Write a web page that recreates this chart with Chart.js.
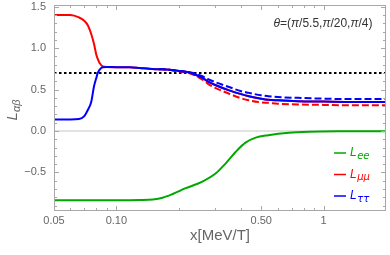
<!DOCTYPE html>
<html>
<head>
<meta charset="utf-8">
<script src="https://cdn.jsdelivr.net/npm/chart.js@4.4.1/dist/chart.umd.min.js"></script>
<style>
  html, body { margin: 0; padding: 0; background: #fff; }
</style>
</head>
<body>
<canvas id="chart" width="390" height="255"></canvas>
<script>
// Solid curves (L_mumu and L_tautau), shared x values
const xSolid = [0.05, 0.06, 0.066, 0.07, 0.073, 0.0756, 0.078, 0.08, 0.0813, 0.083,
                0.0845, 0.086, 0.09, 0.1, 0.116, 0.13, 0.144, 0.16, 0.18, 0.2,
                0.229, 0.26, 0.28, 0.3, 0.35, 0.4, 0.436, 0.5, 0.54, 0.6,
                0.75, 1.0, 1.4, 2.0];
const muSolid = [1.40, 1.40, 1.37, 1.33, 1.27, 1.17, 1.05, 0.92, 0.87, 0.82,
                 0.795, 0.78, 0.772, 0.77, 0.77, 0.76, 0.75, 0.745, 0.74, 0.725,
                 0.70, 0.64, 0.59, 0.555, 0.49, 0.445, 0.42, 0.39, 0.377, 0.37,
                 0.36, 0.355, 0.35, 0.35];
const tauSolid = [0.14, 0.14, 0.145, 0.18, 0.26, 0.35, 0.54, 0.64, 0.70, 0.74,
                  0.76, 0.77, 0.772, 0.77, 0.77, 0.76, 0.75, 0.745, 0.74, 0.725,
                  0.70, 0.64, 0.59, 0.555, 0.49, 0.445, 0.42, 0.39, 0.377, 0.37,
                  0.36, 0.355, 0.35, 0.35];

// Dashed curves
const xDash = [0.16, 0.18, 0.2, 0.229, 0.26, 0.28, 0.3, 0.35, 0.4, 0.436,
               0.5, 0.54, 0.6, 0.75, 1.0, 1.4, 2.0];
const tauDash = [0.745, 0.74, 0.725, 0.705, 0.66, 0.62, 0.59, 0.53, 0.48, 0.46,
                 0.43, 0.42, 0.41, 0.40, 0.39, 0.385, 0.385];
const muDash = [0.745, 0.74, 0.72, 0.69, 0.62, 0.56, 0.52, 0.45, 0.395, 0.37,
                0.345, 0.34, 0.33, 0.32, 0.315, 0.31, 0.31];

// L_ee
const xEe = [0.05, 0.1, 0.13, 0.15, 0.167, 0.187, 0.216, 0.26, 0.302, 0.337,
             0.377, 0.42, 0.47, 0.54, 0.68, 0.85, 1.2, 2.0];
const ee = [-0.835, -0.835, -0.832, -0.825, -0.805, -0.76, -0.69, -0.61, -0.51, -0.39,
            -0.25, -0.14, -0.08, -0.05, -0.02, -0.008, -0.003, -0.002];

// Reference lines
const refX = [0.05, 2.0];
const zeroY = [0, 0];
const dottedY = [0.7, 0.7];

// Axes
const xMin = 0.05, xMax = 2.0;
const yMin = -0.965, yMax = 1.52;
const xMajor = [0.05, 0.1, 0.5, 1];
const xTickLabels = ['0.05', '0.10', '0.50', '1'];
const xMinor = [0.06, 0.07, 0.08, 0.09, 0.2, 0.3, 0.4, 0.6, 0.7, 0.8, 0.9];
const yMajor = [-0.5, 0, 0.5, 1.0, 1.5];
const yTickLabels = ['\u22120.5', '0.0', '0.5', '1.0', '1.5'];
const yMinor = [-0.9, -0.8, -0.7, -0.6, -0.4, -0.3, -0.2, -0.1, 0.1, 0.2, 0.3, 0.4,
                0.6, 0.7, 0.8, 0.9, 1.1, 1.2, 1.3, 1.4];

const legendItems = [
    { sub: 'ee', color: '#00a800' },
    { sub: '\u03bc\u03bc', color: '#ff0000' },
    { sub: '\u03c4\u03c4', color: '#0000ff' }
];

const GREEN = '#00a800', RED = '#ff0000', BLUE = '#0000ff';
const FONT = '"Liberation Sans", Arial, sans-serif';

function pts(xs, ys) {
    return xs.map((x, i) => ({ x: x, y: ys[i] }));
}

function line(label, xs, ys, color, dash, width) {
    return {
        label: label,
        data: pts(xs, ys),
        borderColor: color,
        backgroundColor: color,
        borderWidth: width || 2,
        borderDash: dash || [],
        pointRadius: 0,
        fill: false,
        cubicInterpolationMode: 'monotone'
    };
}

/**
 * Frame with inward ticks, like the original plot
 */
const framePlugin = {
    id: 'frame',
    afterDatasetsDraw(chart) {
        const { ctx, chartArea: a, scales: { x, y } } = chart;
        ctx.save();
        ctx.strokeStyle = '#a8a8a8';
        ctx.lineWidth = 1;
        ctx.strokeRect(a.left + 0.5, a.top + 0.5, a.right - a.left - 1, a.bottom - a.top - 1);
        ctx.beginPath();
        const tickX = (v, len) => {
            const px = Math.round(x.getPixelForValue(v)) + 0.5;
            ctx.moveTo(px, a.bottom); ctx.lineTo(px, a.bottom - len);
            ctx.moveTo(px, a.top); ctx.lineTo(px, a.top + len);
        };
        const tickY = (v, len) => {
            const py = Math.round(y.getPixelForValue(v)) + 0.5;
            ctx.moveTo(a.left, py); ctx.lineTo(a.left + len, py);
            ctx.moveTo(a.right, py); ctx.lineTo(a.right - len, py);
        };
        xMajor.forEach(v => tickX(v, 5));
        xMinor.forEach(v => tickX(v, 3));
        yMajor.forEach(v => tickY(v, 5));
        yMinor.forEach(v => tickY(v, 3));
        ctx.stroke();
        ctx.restore();
    }
};

/**
 * Texts with subscripts: y label, legend and the theta note
 */
const textPlugin = {
    id: 'texts',
    afterDraw(chart) {
        const ctx = chart.ctx;
        ctx.save();

        // y axis label L_ab
        ctx.translate(13, 110);
        ctx.rotate(-Math.PI / 2);
        ctx.fillStyle = '#666';
        ctx.textBaseline = 'middle';
        ctx.font = 'italic 15px ' + FONT;
        const wL = ctx.measureText('L').width;
        ctx.font = 'italic 11px ' + FONT;
        const wS = ctx.measureText('\u03b1\u03b2').width;
        let sx = -(wL + wS) / 2;
        ctx.font = 'italic 15px ' + FONT;
        ctx.fillText('L', sx, 0);
        ctx.font = 'italic 11px ' + FONT;
        ctx.fillText('\u03b1\u03b2', sx + wL, 4);
        ctx.restore();

        // legend
        ctx.save();
        ctx.textBaseline = 'middle';
        legendItems.forEach((it, i) => {
            const yy = 153 + i * 21.5;
            ctx.strokeStyle = it.color;
            ctx.lineWidth = 1.5;
            ctx.beginPath();
            ctx.moveTo(334, yy); ctx.lineTo(346, yy);
            ctx.stroke();
            ctx.fillStyle = it.color;
            ctx.font = 'italic 12px ' + FONT;
            ctx.fillText('L', 350, yy);
            const w = ctx.measureText('L').width;
            ctx.font = 'italic 10px "DejaVu Sans", sans-serif';
            ctx.fillText(it.sub, 350 + w + 0.5, yy + 3);
        });
        ctx.restore();

        // theta note
        ctx.save();
        ctx.fillStyle = '#333';
        ctx.textBaseline = 'middle';
        const parts = [['\u03b8', true], ['=(', false], ['\u03c0', true], ['/5.5,', false],
                       ['\u03c0', true], ['/20,', false], ['\u03c0', true], ['/4)', false]];
        let total = 0;
        parts.forEach(p => {
            ctx.font = (p[1] ? 'italic ' : '') + '12px ' + FONT;
            total += ctx.measureText(p[0]).width;
        });
        let px = 323 - total / 2;
        parts.forEach(p => {
            ctx.font = (p[1] ? 'italic ' : '') + '12px ' + FONT;
            ctx.fillText(p[0], px, 24);
            px += ctx.measureText(p[0]).width;
        });
        ctx.restore();
    }
};

const ctx = document.getElementById('chart');

new Chart(ctx, {
    type: 'line',
    data: {
        datasets: [
            line('Ltautau', xSolid, tauSolid, BLUE),
            line('Ltautau dashed', xDash, tauDash, BLUE, [7, 3]),
            line('Lmumu dashed', xDash, muDash, RED, [7, 3]),
            line('Lmumu', xSolid, muSolid, RED),
            line('dotted', refX, dottedY, '#000', [2.5, 2.5], 2.2),
            line('Lee', xEe, ee, GREEN),
            line('zero', refX, zeroY, '#d9d9d9', [], 1.5)
        ]
    },
    options: {
        responsive: false,
        animation: false,
        layout: { padding: { top: 5, right: 4, left: 0, bottom: 0 } },
        plugins: {
            legend: { display: false },
            tooltip: { enabled: false }
        },
        scales: {
            x: {
                type: 'logarithmic',
                min: xMin,
                max: xMax,
                afterBuildTicks: s => { s.ticks = xMajor.map(v => ({ value: v })); },
                afterFit: s => { s.height = 44; s.paddingLeft = 0; s.paddingRight = 0; },
                grid: { display: false, drawTicks: false },
                border: { display: false },
                ticks: {
                    autoSkip: false,
                    maxRotation: 0,
                    padding: 3,
                    color: '#666',
                    font: { family: FONT, size: 11 },
                    callback: function(value) {
                        const i = xMajor.indexOf(value);
                        return i >= 0 ? xTickLabels[i] : '';
                    }
                },
                title: {
                    display: true,
                    text: 'x[MeV/T]',
                    color: '#666',
                    font: { family: FONT, size: 15 },
                    padding: { top: 0, bottom: 10 }
                }
            },
            y: {
                type: 'linear',
                min: yMin,
                max: yMax,
                afterBuildTicks: s => { s.ticks = yMajor.map(v => ({ value: v })); },
                afterFit: s => { s.width = 54; s.paddingTop = 0; s.paddingBottom = 0; },
                grid: { display: false, drawTicks: false },
                border: { display: false },
                ticks: {
                    padding: 8,
                    color: '#666',
                    font: { family: FONT, size: 11 },
                    callback: function(value) {
                        const i = yMajor.indexOf(value);
                        return i >= 0 ? yTickLabels[i] : '';
                    }
                }
            }
        }
    },
    plugins: [framePlugin, textPlugin]
});
</script>
</body>
</html>
